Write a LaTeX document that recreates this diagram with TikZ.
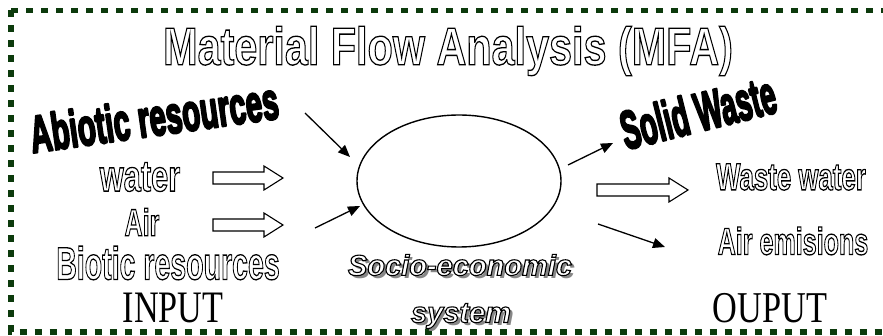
\documentclass[tikz,border=0pt]{standalone}
\usepackage{fontspec}
\setmainfont{Liberation Sans}
\newfontfamily\boldsans{Liberation Sans Bold}
\newfontfamily\bolditsans{Liberation Sans Bold Italic}
\newfontfamily\serifx{Liberation Serif}
\usetikzlibrary{arrows.meta,shapes.geometric}
\newcommand\outlinetext[1]{\special{pdf:literal direct 1 Tr 1.3 w}#1\special{pdf:literal direct 0 Tr}}
\newcommand\heavytext[1]{\special{pdf:literal direct 2 Tr 2.6 w 1 j}#1\special{pdf:literal direct 0 Tr}}
\newcommand\whiteoutline[1]{{\color{white}\special{pdf:literal direct 0 G 2 Tr 1.1 w}#1\special{pdf:literal direct 0 Tr}}}
\definecolor{borderc}{RGB}{12,58,12}
\definecolor{shadowc}{RGB}{135,135,135}
\tikzset{
  border/.style={draw=borderc, line width=5.5pt, dash pattern=on 7pt off 8pt},
  txt/.style={inner sep=0pt, anchor=center},
  thinarrow/.style={line width=1.3pt, -{Triangle[length=12pt,width=10pt]}},
  hollow/.style={draw=black, fill=white, line width=1.1pt, line join=miter},
  sysshape/.style={draw, ellipse, line width=1.4pt, minimum width=204pt, minimum height=132pt, inner sep=0pt}
}
\newcommand\blockarrow[4]{% x1, x2, y, name
  \draw[hollow] (#1,#3-6) -- (#2-19,#3-6) -- (#2-19,#3-12) -- (#2,#3) -- (#2-19,#3+12) -- (#2-19,#3+6) -- (#1,#3+6) -- cycle;
  \coordinate (#4) at (#2,#3);}
\begin{document}
\begin{tikzpicture}[x=1pt,y=-1pt]
\useasboundingbox (0,0) rectangle (883,336);
% border
\draw[border] (11,10.5) -- (895,10.5);
\draw[border] (11,10.5) -- (11,332) -- (895,332);
% title
\node[txt] (title) at (448,51) {\scalebox{0.78}[1]{\fontsize{53}{60}\selectfont\boldsans\outlinetext{Material Flow Analysis (MFA)}}};
% inputs
\node[txt, rotate=8] (abiotic) at (154,117) {\scalebox{0.57}[1]{\fontsize{52}{56}\selectfont\boldsans\heavytext{Abiotic resources}}};
\node[txt] (water) at (140,177) {\scalebox{0.70}[1]{\fontsize{44}{50}\selectfont\boldsans\outlinetext{water}}};
\node[txt] (air) at (142,222) {\scalebox{0.66}[1]{\fontsize{38}{44}\selectfont\boldsans\outlinetext{Air}}};
\node[txt] (biotic) at (168,263) {\scalebox{0.62}[1]{\fontsize{46}{52}\selectfont\boldsans\outlinetext{Biotic resources}}};
\node[txt] (input) at (173,308) {\scalebox{0.76}[1]{\fontsize{45}{50}\selectfont\serifx INPUT}};
% system
\node[sysshape] (sys) at (459,181) {};
\node[txt, text=shadowc] (socioshadow) at (463,268) {\fontsize{29}{34}\selectfont\bolditsans Socio-economic};
\node[txt] (socio) at (460,265) {\fontsize{29}{34}\selectfont\bolditsans\whiteoutline{Socio-economic}};
\node[txt, text=shadowc] (systemshadow) at (464,319) {\fontsize{29}{34}\selectfont\bolditsans system};
\node[txt] (systemlbl) at (461,316) {\fontsize{29}{34}\selectfont\bolditsans\whiteoutline{system}};
% outputs
\node[txt, rotate=14] (solid) at (698,112) {\scalebox{0.52}[1]{\fontsize{54}{60}\selectfont\boldsans\heavytext{Solid Waste}}};
\node[txt] (wastewater) at (791,177) {\scalebox{0.68}[1]{\fontsize{38}{44}\selectfont\boldsans\outlinetext{Waste water}}};
\node[txt] (airem) at (793,241) {\scalebox{0.66}[1]{\fontsize{38}{44}\selectfont\boldsans\outlinetext{Air emisions}}};
\node[txt] (output) at (770,308) {\scalebox{0.78}[1]{\fontsize{44}{50}\selectfont\serifx OUPUT}};
% block arrows
\blockarrow{213}{283}{178}{wtip}
\blockarrow{213}{283}{225}{atip}
\blockarrow{597}{688}{190}{wwtip}
% thin arrows
\coordinate (a1s) at (305,113); \coordinate (a1e) at (350,157);
\coordinate (a2s) at (315,228); \coordinate (a2e) at (360,206);
\coordinate (a3s) at (568,165); \coordinate (a3e) at (613,143);
\coordinate (a4s) at (598,224); \coordinate (a4e) at (665,247);
\draw[thinarrow] (a1s) -- (a1e);
\draw[thinarrow] (a2s) -- (a2e);
\draw[thinarrow] (a3s) -- (a3e);
\draw[thinarrow] (a4s) -- (a4e);
\end{tikzpicture}
\end{document}
